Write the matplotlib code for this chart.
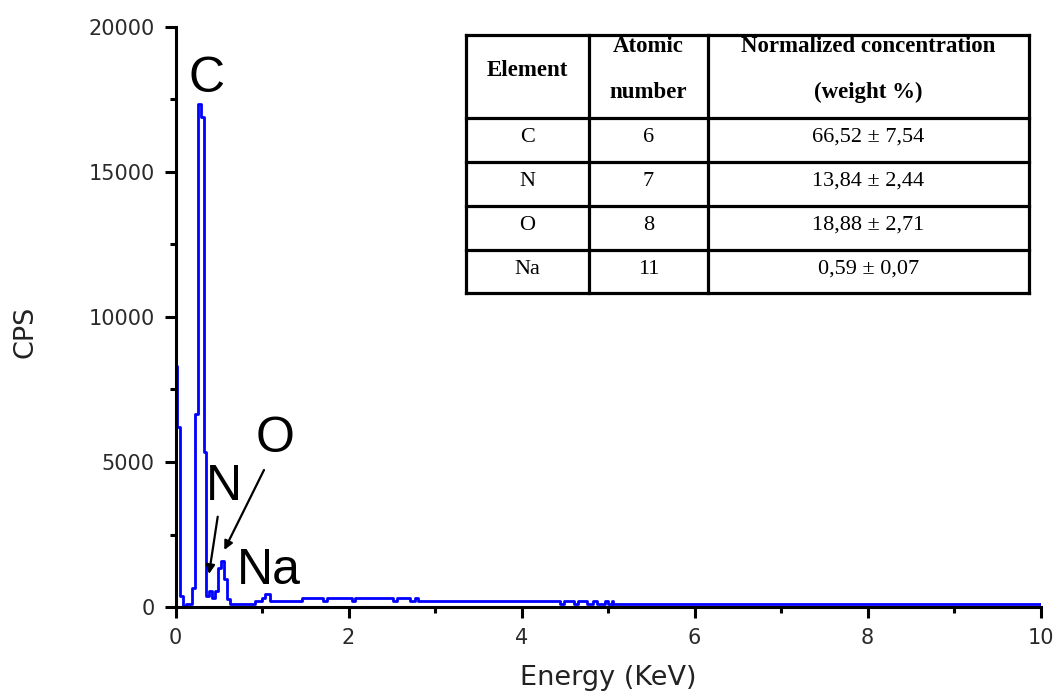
import matplotlib
matplotlib.use("Agg")
import matplotlib.pyplot as plt
from matplotlib.ticker import MultipleLocator

# EDS spectrum, read as channel steps (start energy of each step, keV)
energy_kev = [-0.017, 0.017, 0.052, 0.087, 0.121, 0.191, 0.225, 0.260, 0.291, 0.324,
              0.353, 0.387, 0.422, 0.457, 0.491, 0.526, 0.561, 0.595, 0.630, 0.919,
              1.000, 1.035, 1.092, 1.462, 1.705, 1.751, 2.040, 2.075, 2.514, 2.561,
              2.711, 2.769, 2.803, 4.445, 4.490, 4.610, 4.650, 4.760, 4.827, 4.873,
              4.965, 5.000, 5.046, 5.058, 10.0]
cps = [8300, 6200, 370, 20, 90, 650, 6650, 17350, 16900, 5350,
       370, 550, 300, 550, 1350, 1580, 960, 270, 90, 200,
       310, 440, 200, 320, 200, 320, 200, 320, 200, 320,
       200, 320, 200, 90, 200, 90, 200, 90, 200, 90,
       200, 90, 200, 90, 90]

# peak labels: (text, label x, label baseline y, arrow start, arrow tip)
peak_labels = ["C", "O", "N", "Na"]
label_x = [0.364, 1.156, 0.561, 1.075]
label_y = [17760, 5340, 3690, 790]
arrow_from = {"O": (1.023, 4724), "N": (0.488, 3114)}
arrow_to = {"O": (0.564, 1966), "N": (0.387, 1138)}

# composition table
table_header = ["Element", "Atomic\nnumber", "Normalized concentration\n(weight %)"]
elements = ["C", "N", "O", "Na"]
atomic_numbers = ["6", "7", "8", "11"]
concentrations = ["66,52 ± 7,54", "13,84 ± 2,44", "18,88 ± 2,71", "0,59 ± 0,07"]

fig = plt.figure(figsize=(10.59, 6.93), dpi=100)
W, H = 1059, 693
ax = fig.add_axes([175.5 / W, 1 - 607 / H, 865 / W, 580 / H])

ax.plot(energy_kev, cps, drawstyle="steps-post", color="#0000ff", lw=2.0)

ax.set_xlim(0, 10)
ax.set_ylim(0, 20000)
ax.xaxis.set_major_locator(MultipleLocator(2))
ax.xaxis.set_minor_locator(MultipleLocator(1))
ax.yaxis.set_major_locator(MultipleLocator(5000))
ax.yaxis.set_minor_locator(MultipleLocator(2500))

for side in ["top", "right"]:
    ax.spines[side].set_visible(False)
for side in ["left", "bottom"]:
    ax.spines[side].set_linewidth(2.2)

ax.tick_params(which="major", direction="out", length=8, width=2.2, pad=7,
               labelsize=15, labelcolor="#2a2a2a")
ax.tick_params(which="minor", direction="out", length=4, width=2.2)

ax.set_xlabel("Energy (KeV)", fontsize=19.5, color="#222222")
ax.set_ylabel("CPS", fontsize=19.5, color="#222222")
ax.xaxis.set_label_coords(0.5, -0.1)
# ylabel anchor is the right side of the rotated text
ax.yaxis.set_label_coords(-0.158, 0.474)

# element labels with arrows for N and O
for name, x, y in zip(peak_labels, label_x, label_y):
    ax.text(x, y, name, fontsize=36, family="Liberation Sans",
            ha="center", va="baseline")
    if name in arrow_from:
        ax.annotate("", xy=arrow_to[name], xytext=arrow_from[name],
                    arrowprops=dict(arrowstyle="-|>", color="black", lw=1.6,
                                    mutation_scale=13, shrinkA=0, shrinkB=0))

# table drawn on a pixel-coordinate overlay
tab = fig.add_axes([0, 0, 1, 1])
tab.set_xlim(0, W)
tab.set_ylim(H, 0)
tab.axis("off")

col_edges = [466, 589, 708, 1029]
row_edges = [35, 118, 162, 206, 250, 293]
for x in col_edges:
    tab.plot([x, x], [row_edges[0], row_edges[-1]], color="black", lw=2.3,
             solid_capstyle="projecting")
for y in row_edges:
    tab.plot([col_edges[0], col_edges[-1]], [y, y], color="black", lw=2.3,
             solid_capstyle="projecting")

col_mid = [(col_edges[i] + col_edges[i + 1]) / 2 for i in range(3)]
tab.text(col_mid[0], 70, table_header[0], ha="center", va="center",
         family="Liberation Serif", weight="bold", fontsize=16.5)
for i in (1, 2):
    top, bottom = table_header[i].split("\n")
    tab.text(col_mid[i], 47, top, ha="center", va="center",
             family="Liberation Serif", weight="bold", fontsize=16.5)
    tab.text(col_mid[i], 92, bottom, ha="center", va="center",
             family="Liberation Serif", weight="bold", fontsize=16.5)

for r, row in enumerate(zip(elements, atomic_numbers, concentrations)):
    y = row_edges[r + 1] + 19
    for c, txt in enumerate(row):
        tab.text(col_mid[c], y, txt, ha="center", va="center",
                 family="Liberation Serif", fontsize=16)

fig.savefig("out.png", dpi=100)
